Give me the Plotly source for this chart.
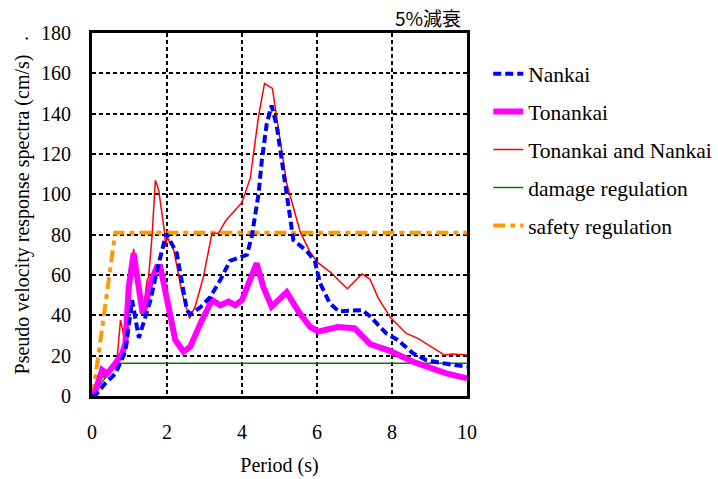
import plotly.graph_objects as go

# Period (s) and pseudo velocity response (cm/s)
nankai_x = [0.0, 0.1, 0.36, 0.62, 0.89, 1.07, 1.25, 1.56, 1.73, 1.91, 1.98, 2.26, 2.53, 2.62, 2.89, 3.15, 3.42,
            3.68, 4.13, 4.26, 4.44, 4.53, 4.66, 4.79, 4.93, 5.06, 5.23, 5.37, 5.72, 5.94, 6.08, 6.34, 6.58,
            7.21, 7.41, 7.67, 7.85, 8.15, 8.56, 8.91, 9.36, 10.0]
nankai_y = [0.0, 0.5, 6.4, 11.0, 22.0, 47.6, 28.8, 47.6, 62.0, 74.0, 80.5, 70.9, 42.6, 40.5, 44.0, 49.0, 57.5,
            67.0, 70.0, 79.0, 100.0, 117.0, 135.0, 144.0, 133.5, 117.0, 95.6, 77.3, 72.0, 67.0, 56.0, 46.0, 42.0,
            42.6, 39.6, 34.4, 31.0, 27.8, 21.2, 17.8, 16.2, 14.5]

tonankai_x = [0.0, 0.1, 0.27, 0.4, 0.62, 0.8, 0.89, 0.98, 1.11, 1.25, 1.35, 1.42, 1.56, 1.73, 1.82, 1.95, 2.09,
              2.22, 2.44, 2.62, 2.89, 3.2, 3.42, 3.64, 3.82, 4.0, 4.39, 4.57, 4.79, 5.19, 5.52, 5.81, 6.03,
              6.55, 7.0, 7.23, 7.41, 7.94, 8.56, 9.45, 10.0]
tonankai_y = [0.0, 3.0, 12.9, 11.0, 16.0, 21.0, 26.0, 54.0, 70.8, 52.5, 41.0, 44.0, 56.0, 64.0, 64.0, 52.5, 37.7,
              27.8, 22.0, 24.4, 36.0, 47.6, 45.0, 46.8, 45.0, 47.6, 65.8, 54.0, 44.3, 51.4, 41.5, 34.4, 31.9,
              34.2, 33.6, 29.4, 25.8, 22.4, 17.0, 11.2, 8.8]

both_x = [0.0, 0.1, 0.23, 0.31, 0.54, 0.67, 0.76, 0.85, 0.98, 1.11, 1.23, 1.29, 1.38, 1.47, 1.51, 1.6, 1.69,
          1.78, 1.87, 1.94, 1.96, 2.0, 2.18, 2.4, 2.6, 2.75, 2.97, 3.2, 3.37, 3.57, 4.0, 4.22, 4.44, 4.6,
          4.81, 5.01, 5.19, 5.55, 5.81, 6.03, 6.37, 6.81, 7.2, 7.41, 7.63, 7.96, 8.38, 8.69, 9.0, 9.4,
          9.62, 10.0]
both_y = [0.0, 4.0, 13.0, 9.0, 15.4, 18.8, 37.7, 29.4, 54.0, 73.0, 51.0, 49.0, 44.3, 57.5, 59.0, 79.0, 107.0,
          102.0, 89.7, 80.7, 74.0, 79.0, 72.4, 51.0, 38.5, 44.3, 59.0, 80.7, 80.7, 87.0, 96.0, 108.0, 138.5, 155.0,
          152.5, 128.6, 105.5, 81.5, 71.5, 66.0, 61.2, 53.2, 60.5, 58.0, 48.7, 38.9, 31.0, 28.6, 25.0, 20.3,
          20.8, 20.3]

damage_x = [0.0, 0.64, 10.0]
damage_y = [0.0, 16.2, 16.2]

safety_x = [0.02, 0.62, 10.0]
safety_y = [0.0, 81.0, 81.0]

x_ticks = [0, 2, 4, 6, 8, 10]
y_ticks = [0, 20, 40, 60, 80, 100, 120, 140, 160, 180]

SERIF = "Liberation Serif"

fig = go.Figure()
fig.add_trace(go.Scatter(x=damage_x, y=damage_y, mode="lines", name="damage regulation",
                         line=dict(color="#008000", width=1.5), legendrank=4, legendgroup="d"))
fig.add_trace(go.Scatter(x=safety_x, y=safety_y, mode="lines", name="safety regulation",
                         line=dict(color="#FF9900", width=4, dash="12px,5px,5px,5px"), legendrank=5, legendgroup="s"))
fig.add_trace(go.Scatter(x=both_x, y=both_y, mode="lines", name="Tonankai and Nankai",
                         line=dict(color="#FF0000", width=1.5), legendrank=3, legendgroup="b"))
fig.add_trace(go.Scatter(x=tonankai_x, y=tonankai_y, mode="lines", name="Tonankai",
                         line=dict(color="#FF00FF", width=6), legendrank=2, legendgroup="t"))
fig.add_trace(go.Scatter(x=nankai_x, y=nankai_y, mode="lines", name="Nankai",
                         line=dict(color="#0000FF", width=4, dash="8px,4px"), legendrank=1, legendgroup="n"))

axis_common = dict(
    showline=True, linecolor="black", linewidth=3, mirror=True,
    showgrid=True, gridcolor="black", gridwidth=2, griddash="4px,3px",
    zeroline=False, ticks="", automargin=False,
    tickfont=dict(family=SERIF, size=20, color="black"),
)

fig.update_xaxes(range=[0, 10], tickvals=x_ticks, ticklabelstandoff=16,
                 title=dict(text="Period (s)", font=dict(family=SERIF, size=20, color="black"), standoff=16),
                 **axis_common)
fig.update_yaxes(range=[0, 180], tickvals=y_ticks, ticklabelstandoff=14,
                 title=dict(text="Pseudo velocity response spectra (cm/s)",
                            font=dict(family=SERIF, size=20, color="black"), standoff=7),
                 **axis_common)

fig.add_annotation(text="5%減衰", xref="paper", yref="paper", x=0.988, y=1.044,
                   xanchor="right", yanchor="middle", showarrow=False,
                   font=dict(family="Noto Sans CJK JP", size=19, color="black"))
fig.add_annotation(text=".", xref="paper", yref="paper", x=-0.188, y=0.985,
                   xanchor="center", yanchor="middle", showarrow=False, textangle=-90,
                   font=dict(family=SERIF, size=20, color="black"))

fig.update_layout(
    width=718, height=479,
    margin=dict(l=91.5, r=250.5, t=33, b=83),
    plot_bgcolor="white", paper_bgcolor="white",
    showlegend=True,
    legend=dict(xref="container", yref="container", x=0.680, y=0.889, xanchor="left", yanchor="top",
                font=dict(family=SERIF, size=21.5, color="black"),
                tracegroupgap=7, bgcolor="rgba(0,0,0,0)", traceorder="grouped"),
)

fig.write_html("out.html")
